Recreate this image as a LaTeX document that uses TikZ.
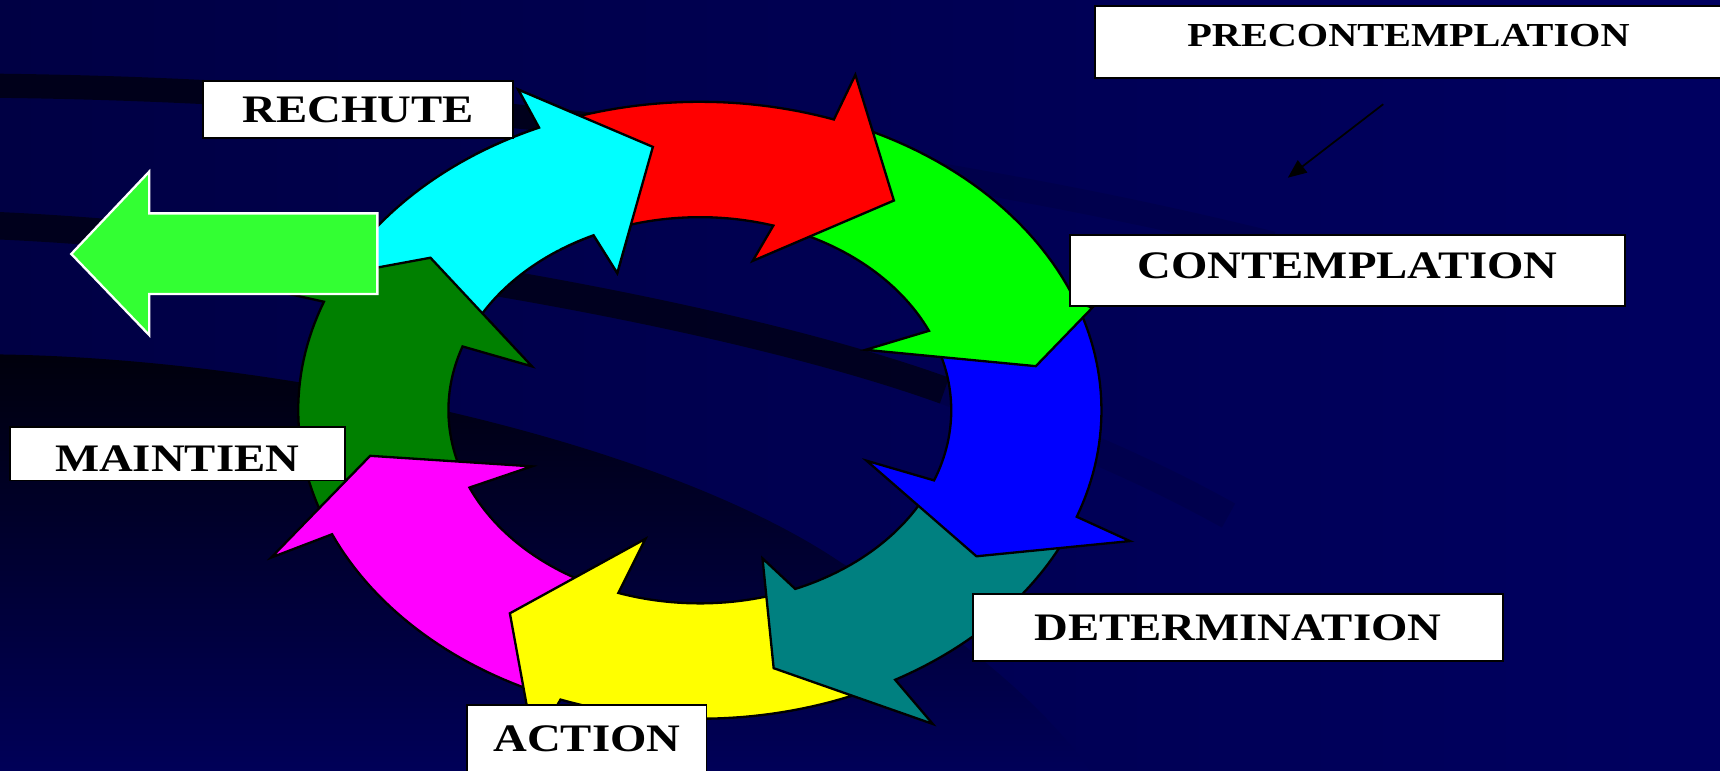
\documentclass[tikz,border=0pt]{standalone}
\usepackage{fontspec}
\usetikzlibrary{arrows.meta}
\newfontfamily\stagefont{Liberation Serif}[FakeStretch=1.2]

\definecolor{navyleft}{HTML}{000044}
\definecolor{navyright}{HTML}{000060}
\definecolor{navybottom}{HTML}{00005A}
\definecolor{swoosh}{HTML}{00000C}
\definecolor{stagered}{HTML}{FF0000}
\definecolor{stagelime}{HTML}{00FF00}
\definecolor{stageblue}{HTML}{0000FF}
\definecolor{stageteal}{HTML}{008080}
\definecolor{stageyellow}{HTML}{FFFF00}
\definecolor{stagemagenta}{HTML}{FF00FF}
\definecolor{stagegreen}{HTML}{008000}
\definecolor{stagecyan}{HTML}{00FFFF}
\definecolor{exitgreen}{HTML}{33FF33}

\tikzset{
  stagearrow/.style={draw=black,line width=0.6pt},
  stagebox/.style={draw=black,fill=white,line width=0.5pt,inner sep=0pt,
    font={\stagefont\bfseries\fontsize{10.1}{12}\selectfont},
    text height=0.235cm,text depth=0pt},
  ring/.style={shift={(638,374)},x=2.975cm,y=-2.285cm,samples=30},
}

\begin{document}
\begin{tikzpicture}[x=0.01cm,y=-0.01cm]
    \useasboundingbox (0,0) rectangle (1568,702);
    \clip (0,0) rectangle (1568,702);

    % background and dark swooshes
    \shade[left color=navyleft,right color=navyright] (0,0) rectangle (1568,702);
    \draw[swoosh,opacity=0.75,line width=0.22cm] (-20,78) .. controls (250,80) and (520,105) .. (800,150);
    \draw[swoosh,opacity=0.12,line width=0.22cm] (800,150) .. controls (950,175) and (1050,195) .. (1160,222);
    \draw[swoosh,opacity=0.7,line width=0.25cm] (-20,205) .. controls (250,215) and (650,280) .. (861,356);
    \draw[swoosh,opacity=0.12,line width=0.25cm] (861,356) .. controls (950,390) and (1030,420) .. (1120,470);
    \shade[top color=swoosh,bottom color=navybottom]
        (-10,323) .. controls (250,325) and (600,400) .. (767,513)
        .. controls (880,580) and (960,650) .. (1000,712) -- (-10,712) -- cycle;

    % the cycle of stages (angle:scale on the ring)
    \begin{scope}[ring]
        \draw[stagearrow,fill=stagecyan] plot[domain=204:246.4] (\x:1.23) -- (246.5:1.394) -- (262.2:1.06)
            -- (245.2:0.603) -- plot[domain=245:204] (\x:0.77) -- cycle;
        \draw[stagearrow,fill=stagegreen] plot[domain=520:560.6] (\x:1.23) -- (560:1.42) -- (576.4:1.025)
            -- (558.8:0.543) -- plot[domain=559.3:520] (\x:0.77) -- cycle;
        \draw[stagearrow,fill=stagemagenta] plot[domain=475:516.3] (\x:1.23) -- (515.9:1.438) -- (529.8:1.026)
            -- (516.5:0.561) -- plot[domain=516.4:475] (\x:0.77) -- cycle;
        \draw[stagearrow,fill=stageyellow] plot[domain=428:470.3] (\x:1.23) -- (470.8:1.43) -- (485.7:0.997)
            -- (468:0.539) -- plot[domain=468.9:433] (\x:0.77) -- cycle;
        \draw[stagearrow,fill=stageteal] plot[domain=385:420.9] (\x:1.23) -- (420.3:1.44) -- (437.6:1.053)
            -- (432:0.621) -- plot[domain=427.7:385] (\x:0.77) -- cycle;
        \draw[stagearrow,fill=stageblue] plot[domain=340:380.2] (\x:1.23) -- (381.6:1.417) -- (394.5:1.028)
            -- (381.5:0.549) -- plot[domain=381.3:340] (\x:0.77) -- cycle;
        \draw[stagearrow,fill=stagelime] plot[domain=291:339.5] (\x:1.23) -- (341.2:1.27) -- (350.3:1.044)
            -- (334.6:0.562) -- plot[domain=335.7:291] (\x:0.77) -- cycle;
        \draw[stagearrow,fill=stagered] plot[domain=250:289.5] (\x:1.23) -- (289.6:1.42) -- (305.4:1.026)
            -- (285.2:0.617) -- plot[domain=287:250] (\x:0.77) -- cycle;
        % cyan head once more, over the red tail
        \clip (0,0) -- (236:2) -- (256:2) -- (276:2) -- cycle;
        \draw[stagearrow,fill=stagecyan] plot[domain=204:246.4] (\x:1.23) -- (246.5:1.394) -- (262.2:1.06)
            -- (245.2:0.603) -- plot[domain=245:204] (\x:0.77) -- cycle;
    \end{scope}

    % way out
    \draw[white,fill=exitgreen,line width=0.6pt] (65,231.5) -- (136,156.5) -- (136,194.5) -- (344,194.5)
        -- (344,268) -- (136,268) -- (136,305.4) -- cycle;

    % labels
    \node[stagebox,minimum width=5.72cm,minimum height=0.66cm,
        font={\stagefont\bfseries\fontsize{8.7}{10}\selectfont},
        text height=0.2cm,text depth=0.13cm] (precontemplation) at (1284,38.5) {PRECONTEMPLATION};
    \node[stagebox,minimum width=5.05cm,minimum height=0.65cm,text depth=0.09cm] (contemplation) at (1228.5,246.5) {CONTEMPLATION};
    \node[stagebox,minimum width=4.83cm,minimum height=0.615cm] (determination) at (1128.5,572) {DETERMINATION};
    \node[stagebox,minimum width=2.18cm,minimum height=0.7cm,text depth=0.1cm] (action) at (535,678) {ACTION};
    \node[stagebox,minimum width=3.05cm,minimum height=0.49cm,text height=0.33cm] (maintien) at (161.5,413.5) {MAINTIEN};
    \node[stagebox,minimum width=2.83cm,minimum height=0.525cm] (rechute) at (326.3,99.8) {RECHUTE};

    \coordinate (pc-tail) at (1261,95);
    \coordinate (pc-head) at (1174,162);
    \draw[-{Triangle[length=0.17cm,width=0.14cm]},line width=0.45pt] (pc-tail) -- (pc-head);
\end{tikzpicture}
\end{document}
